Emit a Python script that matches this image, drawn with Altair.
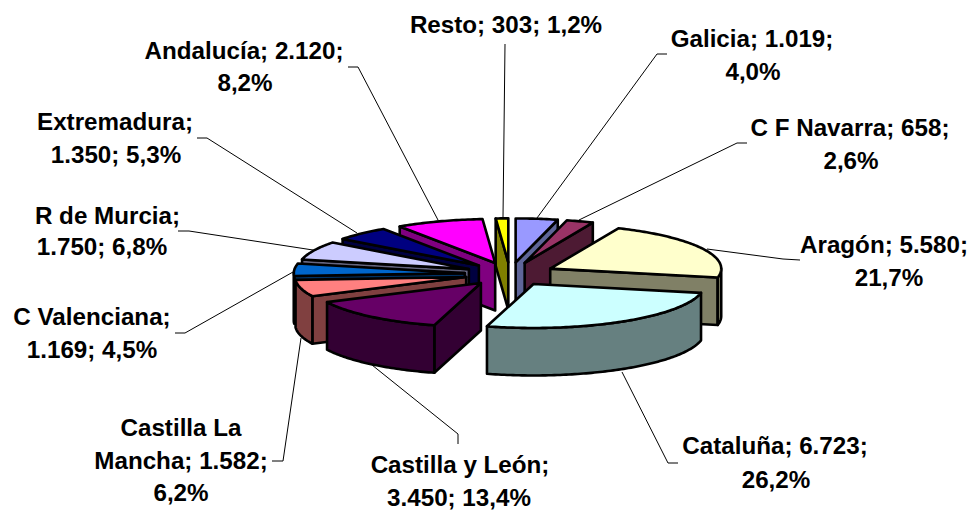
import math
import altair as alt
import pandas as pd

# ---- values ----
regions = ["Galicia", "C F Navarra", "Aragón", "Cataluña", "Castilla y León", "Castilla La Mancha",
           "C Valenciana", "R de Murcia", "Extremadura", "Andalucía", "Resto"]
values = [1019, 658, 5580, 6723, 3450, 1582, 1169, 1750, 1350, 2120, 303]
top_colors = ["#9999FF", "#993366", "#FFFFCC", "#CCFFFF", "#660066", "#FF8080",
              "#0066CC", "#CCCCFF", "#000080", "#FF00FF", "#FFFF00"]
side_colors = ["#5F6699", "#4D1A33", "#808066", "#668080", "#330033", "#804040",
               "#003366", "#666680", "#000040", "#800080", "#808000"]
label_text = ["Resto; 303; 1,2%", "Galicia; 1.019;", "4,0%", "C F Navarra; 658;", "2,6%", "Aragón; 5.580;", "21,7%",
              "Cataluña; 6.723;", "26,2%", "Castilla y León;", "3.450; 13,4%", "Castilla La", "Mancha; 1.582;", "6,2%",
              "C Valenciana;", "1.169; 4,5%", "R de Murcia;", "1.750; 6,8%", "Extremadura;", "1.350; 5,3%",
              "Andalucía; 2.120;", "8,2%"]

# ---- layout of the tilted pie (screen pixels) ----
CX, CY, RX, RY, DEPTH, EXPLODE = 510, 274, 171, 44, 47.5, 0.265
PAINT_ORDER = [10, 0, 1, 2, 9, 8, 7, 6, 5, 4, 3]
label_x = [506, 752, 753, 850, 851, 884, 889, 775, 776, 460, 459, 181, 181, 181, 92, 92, 107.5, 102, 115, 116, 244, 245]
label_y = [26, 40, 73, 129, 162, 246, 279, 447, 481, 466, 499, 429, 462, 494, 318, 351, 217, 248, 123, 156, 52, 84]
leaders = [
    [(505, 44), (503, 217)],
    [(667, 54), (657, 54), (537, 218)],
    [(747, 143), (737, 143), (579, 220)],
    [(800, 260), (783, 259), (707, 249)],
    [(678, 463), (668, 463), (622, 372)],
    [(458, 444), (458, 434), (372, 365)],
    [(272, 461), (283, 461), (301, 338)],
    [(175, 333), (185, 333), (293, 272)],
    [(178, 231), (189, 231), (313, 250)],
    [(197, 138), (207, 138), (357, 233)],
    [(348, 67), (358, 67), (438, 220)],
]


def pt(theta, r=1.0, ox=CX, oy=CY, dz=0):
    t = math.radians(theta)
    return ox + r * RX * math.sin(t), oy - r * RY * math.cos(t) + dz


total = sum(values)
edges = [0.0]
for v in values:
    edges.append(edges[-1] + v / total * 360)

rows = []
pid = 0


def add(points, color):
    global pid
    for i, (x, y) in enumerate(points):
        rows.append({"x": x, "y": y, "i": i, "pid": f"p{pid:03d}", "c": color})
    pid += 1


for k in PAINT_ORDER:
    a0, a1 = edges[k], edges[k + 1]
    mid = (a0 + a1) / 2
    ax, ay = pt(mid, EXPLODE)
    corner = lambda th, dz=0: pt(th, 1.0, ax, ay, dz)
    # radial walls that face the viewer
    for th, normal in ((a0, a0 - 90), (a1, a1 + 90)):
        if math.cos(math.radians(normal)) < 0:
            add([(ax, ay), corner(th), corner(th, DEPTH), (ax, ay + DEPTH)], side_colors[k])
    # outer rim (front half only)
    r0, r1 = max(a0, 90), min(a1, 270)
    if r1 > r0:
        n = max(2, int(r1 - r0) + 1)
        arc = [r0 + (r1 - r0) * j / n for j in range(n + 1)]
        add([corner(t) for t in arc] + [corner(t, DEPTH) for t in reversed(arc)], side_colors[k])
    # top face
    n = max(2, int(a1 - a0) + 1)
    add([(ax, ay)] + [corner(a0 + (a1 - a0) * j / n) for j in range(n + 1)], top_colors[k])

poly = pd.DataFrame(rows)
lead = pd.DataFrame([{"x": x, "y": y, "i": i, "pid": f"l{n:02d}"}
                     for n, seg in enumerate(leaders) for i, (x, y) in enumerate(seg)])
labels = pd.DataFrame({"x": label_x, "y": label_y, "t": label_text})

W, H = 960, 503
xs = alt.X("x:Q", scale=alt.Scale(domain=[8, 8 + W], range=[0, W]), axis=None)
ys = alt.Y("y:Q", scale=alt.Scale(domain=[8, 8 + H], range=[0, H]), axis=None)

leader_layer = alt.Chart(lead).mark_line(color="#000000", strokeWidth=1).encode(
    x=xs, y=ys, detail="pid:N", order="i:Q")
pie_layer = alt.Chart(poly).mark_line(
    interpolate="linear-closed", stroke="#000000", strokeWidth=2.6, strokeJoin="round"
).encode(x=xs, y=ys, detail="pid:N", order="i:Q", fill=alt.Fill("c:N", scale=None, legend=None))
text_layer = alt.Chart(labels).mark_text(
    font="Liberation Sans", fontWeight="bold", fontSize=24.2, color="#000000", align="center", baseline="middle"
).encode(x=xs, y=ys, text="t:N")

chart = alt.layer(leader_layer, pie_layer, text_layer).properties(
    width=W, height=H, padding=0, autosize=alt.AutoSizeParams(type="none")
).configure_view(stroke=None)

chart.save("out.html", embed_options={"renderer": "svg", "actions": False})
